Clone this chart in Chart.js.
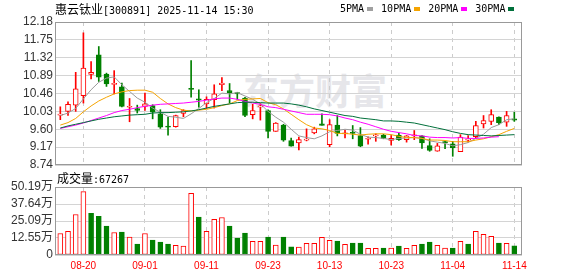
<!DOCTYPE html>
<html>
<head>
<meta charset="utf-8">
<script src="https://cdn.jsdelivr.net/npm/chart.js@4.4.1/dist/chart.umd.min.js"></script>
<style>
	body { margin:0; background:#fff; }
	#wrap { position:relative; width:578px; height:276px; overflow:hidden; font-family:"DejaVu Sans Mono", monospace; color:#000; }
	.cn { font-family:"Noto Sans CJK SC", sans-serif; font-size:12px; }
	#title { position:absolute; left:55px; top:1px; font-size:10px; line-height:16px; white-space:nowrap; }
	#legend { position:absolute; left:340px; top:1px; font-size:10px; line-height:16px; white-space:nowrap; }
	#legend i { display:inline-block; width:6px; height:4px; margin:0 8px 1px 3px; vertical-align:middle; }
	#vol-label { position:absolute; left:57px; top:170px; font-size:10px; line-height:16px; white-space:nowrap; }
	#mark { position:absolute; left:243px; top:70px; font:bold 36px "Noto Sans CJK SC"; line-height:38px; color:#e6e6ea; }
	canvas { position:absolute; left:0; }
	#price { top:0; }
	#vol { top:176px; }
</style>
</head>
<body>
<div id="wrap">
	<div id="mark">东方财富</div>
	<canvas id="price" width="578" height="176"></canvas>
	<canvas id="vol" width="578" height="100"></canvas>
	<div id="title"><span class="cn">惠云钛业</span>[300891] 2025-11-14 15:30</div>
	<div id="legend"><span>5PMA</span><i style="background:#a0a0a0"></i><span>10PMA</span><i style="background:#f5a400"></i><span>20PMA</span><i style="background:#ff00ff"></i><span>30PMA</span><i style="background:#00703b"></i></div>
	<div id="vol-label"><span class="cn">成交量</span>:67267</div>
</div>
<script>
const dates = ['08-15','08-18','08-19','08-20','08-21','08-22','08-25','08-26','08-27','08-28',
	'08-29','09-01','09-02','09-03','09-04','09-05','09-08','09-09','09-10','09-11',
	'09-12','09-15','09-16','09-17','09-18','09-19','09-22','09-23','09-24','09-25',
	'09-26','09-29','09-30','10-09','10-10','10-13','10-14','10-15','10-16','10-17',
	'10-20','10-21','10-22','10-23','10-24','10-27','10-28','10-29','10-30','10-31',
	'11-03','11-04','11-05','11-06','11-07','11-10','11-11','11-12','11-13','11-14'];

const openP = [9.94,10.03,10.18,10.41,10.92,11.39,10.93,10.68,10.62,10.13,
	10.10,10.15,10.17,9.97,9.67,9.66,9.98,10.58,10.33,10.21,
	10.31,10.67,10.53,10.48,10.35,9.95,10.14,10.05,9.55,9.70,
	9.33,9.27,9.34,9.51,9.73,9.23,9.70,9.49,9.52,9.45,
	9.36,9.44,9.46,9.33,9.46,9.35,9.44,9.44,9.21,9.07,
	9.30,9.25,9.06,9.34,9.42,9.73,9.79,9.89,9.77,9.85];
const highP = [10.14,10.26,10.97,11.92,11.23,11.59,10.95,11.01,10.71,10.34,
	10.18,10.47,10.19,10.07,9.89,9.94,10.07,11.25,10.55,10.38,
	10.67,10.84,10.70,10.49,10.37,10.20,10.22,10.07,9.76,9.72,
	9.39,9.41,9.61,9.65,9.97,9.83,9.93,9.58,9.69,9.64,
	9.42,9.49,9.48,9.45,9.50,9.45,9.57,9.45,9.37,9.26,
	9.31,9.31,9.47,9.45,9.79,9.93,10.07,9.90,10.03,10.01];
const lowP = [9.83,9.93,10.03,10.23,10.81,10.75,10.63,10.45,10.14,9.78,
	9.99,10.05,9.85,9.62,9.46,9.65,9.90,10.37,10.13,10.10,
	10.11,10.53,10.23,10.32,9.90,9.85,9.82,9.39,9.55,9.31,
	9.19,9.10,9.32,9.49,9.70,9.18,9.44,9.39,9.37,9.18,
	9.24,9.31,9.37,9.22,9.33,9.29,9.35,9.14,9.07,9.07,
	9.13,8.95,9.06,9.29,9.39,9.63,9.71,9.71,9.67,9.79];
const closeP = [9.96,10.20,10.57,11.07,10.97,10.85,10.69,10.70,10.15,10.15,
	10.05,10.21,10.01,9.65,9.65,9.93,10.05,10.56,10.30,10.32,
	10.45,10.71,10.48,10.45,9.93,10.05,10.16,9.55,9.75,9.34,
	9.19,9.35,9.36,9.61,9.69,9.71,9.50,9.51,9.50,9.19,
	9.38,9.46,9.38,9.38,9.35,9.44,9.46,9.27,9.09,9.20,
	9.28,9.15,9.41,9.36,9.69,9.81,9.95,9.76,9.93,9.82];

const ma5 = [9.93,9.99,10.10,10.33,10.55,10.73,10.83,10.86,10.67,10.51,
	10.35,10.25,10.11,10.01,9.91,9.89,9.86,9.97,10.10,10.24,
	10.34,10.47,10.45,10.48,10.40,10.32,10.21,10.03,9.89,9.77,
	9.60,9.44,9.40,9.37,9.44,9.54,9.57,9.60,9.58,9.48,
	9.41,9.40,9.38,9.35,9.38,9.39,9.40,9.38,9.32,9.29,
	9.26,9.20,9.23,9.28,9.38,9.48,9.64,9.71,9.83,9.85];
const ma10 = [9.70,9.76,9.86,10.02,10.16,10.28,10.37,10.45,10.50,10.53,
	10.54,10.54,10.49,10.34,10.21,10.12,10.06,10.04,10.06,10.08,
	10.12,10.17,10.21,10.29,10.32,10.33,10.34,10.24,10.19,10.09,
	9.96,9.83,9.71,9.63,9.61,9.57,9.50,9.50,9.48,9.46,
	9.48,9.49,9.49,9.47,9.43,9.40,9.40,9.38,9.34,9.34,
	9.33,9.30,9.30,9.30,9.34,9.37,9.42,9.47,9.55,9.62];
const ma20 = [9.62,9.66,9.70,9.75,9.81,9.87,9.93,10.00,10.05,10.08,
	10.12,10.15,10.18,10.20,10.21,10.22,10.23,10.25,10.27,10.30,
	10.33,10.35,10.35,10.32,10.27,10.23,10.20,10.14,10.12,10.08,
	10.04,10.00,9.96,9.96,9.96,9.95,9.92,9.87,9.83,9.77,
	9.72,9.66,9.60,9.55,9.52,9.49,9.45,9.44,9.41,9.40,
	9.40,9.39,9.40,9.38,9.38,9.39,9.41,9.42,null,null];
const ma30 = [9.63,9.68,9.72,9.76,9.80,9.84,9.87,9.90,9.92,9.94,
	9.95,9.96,9.99,10.00,10.00,10.01,10.02,10.04,10.07,10.11,
	10.15,10.18,10.21,10.24,10.25,10.25,10.24,10.23,10.23,10.23,
	10.21,10.18,10.14,10.09,10.05,10.01,9.97,9.93,9.91,9.87,
	9.85,9.83,9.80,9.80,9.79,9.77,9.75,9.71,9.67,9.63,
	9.59,9.54,9.50,9.47,9.46,9.45,9.44,9.45,9.46,9.47];

// volume in 万 (10k)
const volume = [15.9,17.4,29.9,46.8,30.8,28.6,21.3,16.6,16.9,13.2,
	8.1,15.9,11.0,9.5,8.1,7.1,6.6,45.5,27.9,17.4,
	26.4,27.7,21.3,12.5,16.2,10.0,10.0,13.2,7.3,13.2,
	6.1,5.9,8.6,8.6,13.0,10.8,10.3,7.8,8.8,8.8,
	4.9,4.9,5.1,5.1,6.6,4.9,7.1,8.1,9.5,7.1,
	5.1,5.1,10.0,8.1,17.4,15.2,13.7,8.8,8.6,6.73];
const volUp = [1,1,1,1,0,0,0,1,0,1,
	0,1,0,0,0,1,1,1,0,1,
	1,1,0,0,0,1,1,0,1,0,
	0,1,1,1,1,1,0,1,0,0,
	1,1,0,1,0,1,1,0,0,1,
	1,0,1,0,1,1,1,0,1,0];

const priceTicks = [8.74,9.17,9.60,10.03,10.46,10.89,11.32,11.75,12.18];
const volTicks = [0,12.55,25.09,37.64,50.19];
const xTickIdx = [3,11,19,27,35,43,51,59];

const RED = '#ff0000', GREEN = '#008000';
const up = closeP.map((c,i) => c > openP[i]);

const frame = {
	id: 'frame',
	afterDraw(chart) {
		const a = chart.chartArea, ctx = chart.ctx;
		ctx.save();
		ctx.strokeStyle = '#999';
		ctx.lineWidth = 1;
		ctx.strokeRect(Math.round(a.left)+0.5, Math.round(a.top)+0.5, Math.round(a.right-a.left)-1, Math.round(a.bottom-a.top)-1);
		ctx.restore();
	}
};

function xScale(showLabels) {
	return {
		type: 'linear', min: -0.69, max: 60, offset: false,
		afterBuildTicks: (s) => { s.ticks = xTickIdx.map((v) => ({ value: v })); },
		afterFit: (s) => { s.height = showLabels ? 21 : 0; },
		grid: { color: '#cccccc', drawTicks: false, offset: false },
		border: { display: false, dash: [4, 4] },
		ticks: {
			display: showLabels, autoSkip: false, maxRotation: 0, padding: 5,
			color: RED, font: { family: 'Liberation Sans', size: 10 },
			callback: (v) => dates[v]
		}
	};
}

function yScale(min, max, ticks, fmt) {
	return {
		min: min, max: max, beginAtZero: false,
		afterFit: (s) => { s.width = 55; },
		afterBuildTicks: (s) => { s.ticks = ticks.map((v) => ({ value: v })); },
		grid: { color: '#d4d4d4', drawTicks: false },
		border: { display: false },
		ticks: {
			autoSkip: false, padding: 2, color: '#333',
			font: { family: "'Liberation Sans', 'Noto Sans CJK SC'", size: 12 },
			callback: fmt
		}
	};
}

function maLine(values, color) {
	return {
		type: 'line',
		data: values.map((v,i) => ({ x: i, y: v })),
		borderColor: color, borderWidth: 1, pointRadius: 0, tension: 0, order: 1
	};
}

new Chart(document.getElementById('price'), {
	type: 'bar',
	data: {
		datasets: [
			{
				data: dates.map((d,i) => ({ x: i, y: [lowP[i], highP[i]] })),
				barThickness: 1, grouped: false, borderWidth: 0, order: 6,
				backgroundColor: (c) => up[c.dataIndex] ? RED : GREEN
			},
			{
				data: dates.map((d,i) => ({ x: i, y: [openP[i], closeP[i]] })),
				barThickness: 5, grouped: false, minBarLength: 1, order: 5,
				borderWidth: 1, borderSkipped: false,
				borderColor: (c) => up[c.dataIndex] ? RED : GREEN,
				backgroundColor: (c) => up[c.dataIndex] ? '#ffffff' : GREEN
			},
			maLine(ma30, '#00703b'),
			maLine(ma20, '#ff00ff'),
			maLine(ma10, '#f5a400'),
			maLine(ma5, '#9b9b9b')
		]
	},
	options: {
		responsive: false, animation: false,
		layout: { padding: { top: 22, right: 56, bottom: 11, left: 0 } },
		plugins: { legend: { display: false }, tooltip: { enabled: false } },
		scales: {
			x: xScale(false),
			y: yScale(8.74, 12.18, priceTicks, (v) => v.toFixed(2))
		}
	},
	plugins: [frame]
});

new Chart(document.getElementById('vol'), {
	type: 'bar',
	data: {
		datasets: [{
			data: volume.map((v,i) => ({ x: i, y: v })),
			barThickness: 5, grouped: false, borderWidth: 1, borderSkipped: false,
			borderColor: (c) => volUp[c.dataIndex] ? RED : GREEN,
			backgroundColor: (c) => volUp[c.dataIndex] ? '#ffffff' : GREEN
		}]
	},
	options: {
		responsive: false, animation: false,
		layout: { padding: { top: 11, right: 56, bottom: 0, left: 0 } },
		plugins: { legend: { display: false }, tooltip: { enabled: false } },
		scales: {
			x: xScale(true),
			y: yScale(0, 50.19, volTicks, (v) => v === 0 ? '0' : v.toFixed(2) + '万')
		}
	},
	plugins: [frame]
});
</script>
</body>
</html>
